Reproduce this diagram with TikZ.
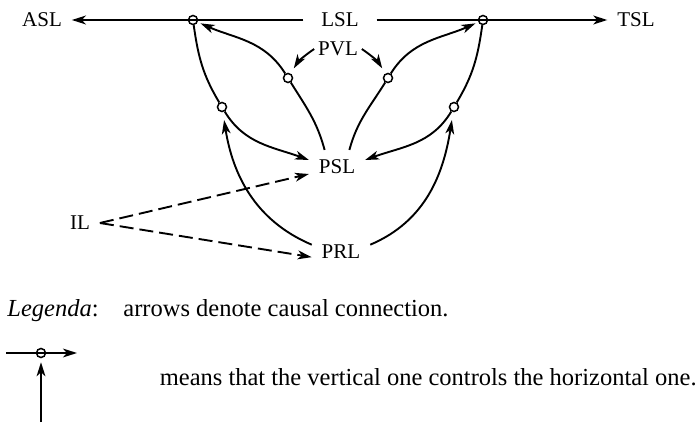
\documentclass[tikz,border=0pt]{standalone}
\usepackage{fontspec}
\setmainfont{Liberation Serif}
\usetikzlibrary{arrows.meta}

\begin{document}
\begin{tikzpicture}[x=0.5pt, y=-0.5pt,
      lbl/.style={inner sep=2pt, outer sep=3pt, font=\fontsize{10.5}{12}\selectfont},
      ctl/.style={circle, draw, line width=0.75pt, inner sep=0pt, minimum size=4.5pt},
      leg/.style={inner sep=0pt, font=\fontsize{12.25}{14}\selectfont},
      arr/.style={-{Stealth[length=7pt, width=4.4pt, inset=2pt]}, line width=0.95pt},
      top/.style={arr, line width=1.2pt},
      dsh/.style={arr, dash pattern=on 7pt off 3pt}]
    \useasboundingbox (0,0) rectangle (698,423);
    \node[lbl] (ASL) at (42,20) {ASL};
    \node[lbl, inner xsep=6pt] (LSL) at (340,20) {LSL};
    \node[lbl] (TSL) at (636,20) {TSL};
    \node[lbl, outer sep=0pt] (PVL) at (338,49) {PVL};
    \node[lbl] (PSL) at (337,167) {PSL};
    \node[lbl] (PRL) at (341,252) {PRL};
    \node[lbl] (IL) at (80,223) {IL};
    \node[ctl] (cL) at (193,20) {};
    \node[ctl] (cR) at (483,20) {};
    \node[ctl] (cLo) at (222,107) {};
    \node[ctl] (cLi) at (288,78) {};
    \node[ctl] (cRi) at (388,78) {};
    \node[ctl] (cRo) at (454,107) {};
    \draw[top] (LSL) -- (ASL);
    \draw[top] (LSL) -- (TSL);
    \draw[arr] (cL) to[out=-82, in=121] (cLo) to[out=-59, in=160] (PSL.166);
    \draw[arr] (cR) to[out=-98, in=59] (cRo) to[out=-121, in=20] (PSL.14);
    \draw[arr, shorten >=1.5pt] (PSL.126) to[out=105, in=-58] (cLi) to[out=122, in=-24] (cL);
    \draw[arr, shorten >=1.5pt] (PSL.54) to[out=75, in=-122] (cRi) to[out=58, in=-156] (cR);
    \draw[arr, shorten >=4pt] (PRL.166) to[out=157, in=-81] (cLo);
    \draw[arr, shorten >=4pt] (PRL.14) to[out=23, in=-99] (cRo);
    \draw[arr, shorten >=3pt] (PVL.west) to[bend right=12] (cLi);
    \draw[arr, shorten >=3pt] (PVL.east) to[bend left=12] (cRi);
    \draw[dsh] (IL.east) -- (PSL.194);
    \draw[dsh] (IL.east) -- (PRL.190);
    \node[leg, anchor=base west] (lgd) at (7,316) {\textit{Legenda}:};
    \node[leg, anchor=base west] (lgdtxt) at (123,316) {arrows denote causal connection.};
    \coordinate (hA) at (6,353);
    \coordinate (hB) at (77,353);
    \node[ctl] (cK) at (41,353) {};
    \coordinate (vA) at (41,422);
    \draw[arr] (hA) -- (hB);
    \draw[arr, shorten >=2pt] (vA) -- (cK);
    \node[leg, anchor=base east] (means) at (697,385) {means that the vertical one controls the horizontal one.};
\end{tikzpicture}
\end{document}
